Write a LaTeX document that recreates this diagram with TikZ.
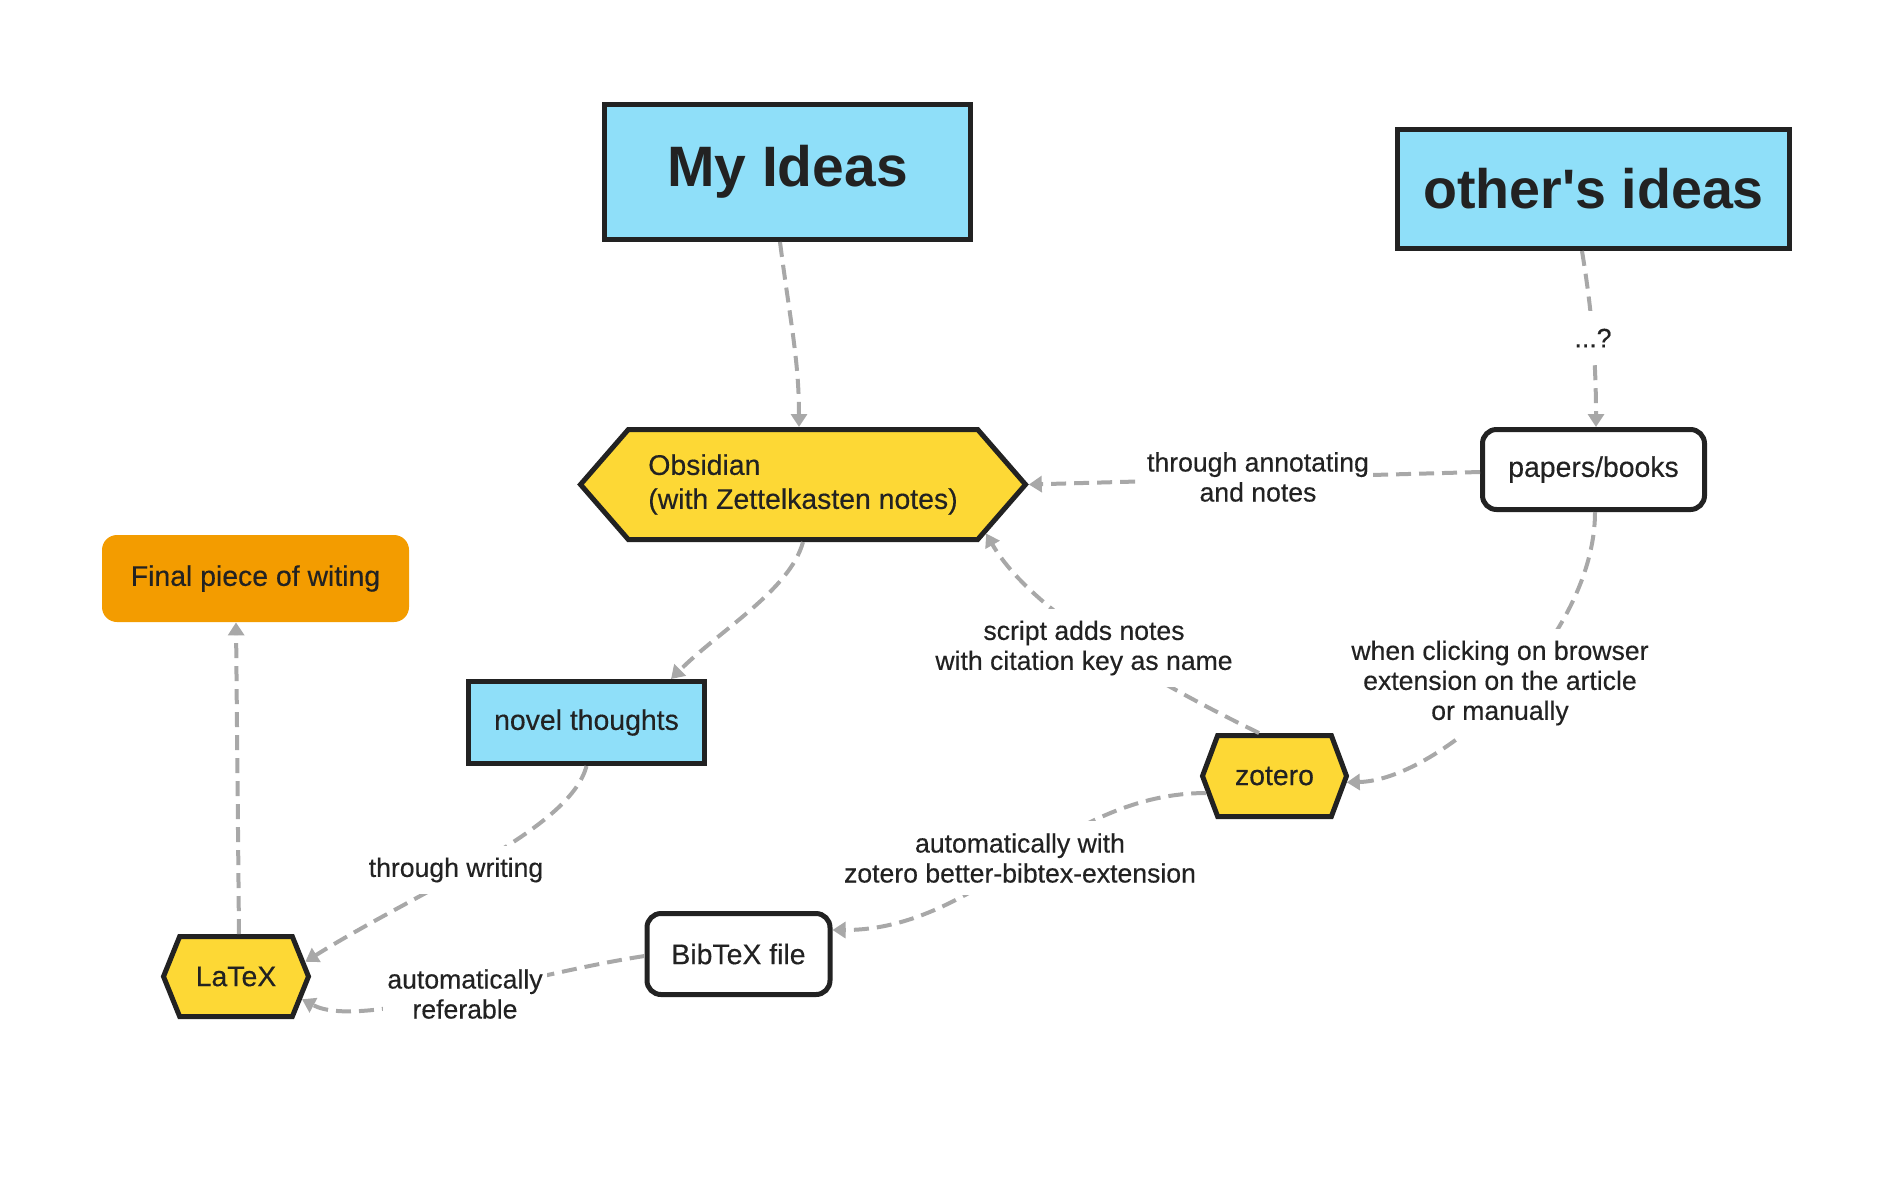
\documentclass[tikz,border=0pt]{standalone}
\usepackage{fontspec}
\setmainfont{Liberation Sans}[Ligatures=TeXOff,FakeBold=0.35,BoldFeatures={FakeBold=0}]
\usetikzlibrary{shapes.symbols,arrows.meta,calc}
\definecolor{ideablue}{HTML}{8FDFF9}
\definecolor{toolyellow}{HTML}{FDD835}
\definecolor{finalorange}{HTML}{F39C00}
\definecolor{inkdark}{HTML}{222222}
\definecolor{edgegray}{HTML}{A8A8A8}
\begin{document}
\begin{tikzpicture}[x=0.5pt,y=-0.5pt,
  box/.style={draw=inkdark,line width=2.5pt,text=inkdark,inner sep=0pt,font=\fontsize{14.2}{17}\selectfont},
  bluebox/.style={box,fill=ideablue,rectangle},
  hexnode/.style={box,fill=toolyellow,shape=signal,signal to=west and east},
  roundbox/.style={box,fill=white,rectangle,rounded corners=7pt},
  finalbox/.style={fill=finalorange,rectangle,rounded corners=7.5pt,text=inkdark,inner sep=0pt,font=\fontsize{14.2}{17}\selectfont},
  bigtext/.style={font=\bfseries\fontsize{28.5}{34}\selectfont},
  edge/.style={draw=edgegray,line width=2pt,dash pattern=on 7.5pt off 4pt},
  arrowedge/.style={edge,-{Triangle[length=6.5pt,width=8pt]}},
  lab/.style={fill=white,text=inkdark,align=center,inner xsep=2pt,inner ysep=6pt,font=\fontsize{13.3}{15}\selectfont}
]
\useasboundingbox (0,0) rectangle (1892,1180);

% nodes
\node[bluebox,bigtext,minimum width=183pt,minimum height=67.5pt] (myideas) at (787.5,172) {My Ideas};
\node[bluebox,bigtext,font=\bfseries\fontsize{27.8}{34}\selectfont,minimum width=196pt,minimum height=59.5pt] (others) at (1593.5,189) {other's ideas};
\node[hexnode,signal pointer angle=98,minimum width=222.5pt,minimum height=55pt,align=left] (obsidian) at (803,484.5) {Obsidian\\(with Zettelkasten notes)};
\node[roundbox,minimum width=111pt,minimum height=40pt] (papers) at (1593.5,469.5) {papers/books};
\node[finalbox,minimum width=153.5pt,minimum height=43.5pt] (final) at (255.5,578.5) {Final piece of witing};
\node[bluebox,minimum width=118pt,minimum height=41pt] (novel) at (586.5,722.5) {novel thoughts};
\node[hexnode,signal pointer angle=139,minimum width=72pt,minimum height=40.5pt] (zotero) at (1274.5,776) {zotero};
\node[roundbox,minimum width=91.5pt,minimum height=40.5pt] (bibtex) at (738.5,954) {BibTeX file};
\node[hexnode,signal pointer angle=136,minimum width=72.5pt,minimum height=40pt] (latex) at (236,976.5) {LaTeX};

% connectors
\draw[arrowedge] ($(myideas.south)+(-7.5,0)$) .. controls (790,320) and (799,360) .. ($(obsidian.north)+(-4,0)$);
\draw[arrowedge] ($(others.south)+(-11.5,0)$) .. controls (1590,300) and (1596,350) .. ($(papers.north)+(2.5,0)$);
\draw[arrowedge] ($(papers.west)+(0,2.5)$) -- (obsidian.east);
\draw[arrowedge] ($(papers.south)+(1.5,0)$) .. controls (1595,640) and (1440,780) .. (zotero.-5);
\draw[arrowedge] ($(zotero.north)+(-15.5,0)$) .. controls (1150,680) and (1030,610) .. (obsidian.-15);
\draw[arrowedge] (obsidian.south) .. controls (790,590) and (720,630) .. ($(novel.north)+(84.5,0)$);
\draw[arrowedge] (novel.south) .. controls (570,830) and (420,890) .. (latex.12);
\draw[arrowedge] (zotero.194) .. controls (1060,793) and (980,930) .. ($(bibtex.east)+(0,-24)$);
\draw[arrowedge] ($(bibtex.west)+(0,2)$) .. controls (520,975) and (360,1030) .. (latex.-19);
\draw[arrowedge] ($(latex.north)+(3,0)$) -- ($(final.south)+(-19.5,0)$);

% connector labels
\node[lab,inner ysep=9pt] (lq) at (1593,338) {...?};
\node[lab] (lannot) at (1258,477) {through annotating\\and notes};
\node[lab] (lclick) at (1500,683) {when clicking on browser\\extension on the article\\or manually};
\node[lab] (lscript) at (1084,648) {script adds notes\\with citation key as name};
\node[lab] (lwrite) at (456,870) {through writing};
\node[lab] (lauto) at (1020,858) {automatically with\\zotero better-bibtex-extension};
\node[lab] (lref) at (465,994) {automatically\\referable};
\end{tikzpicture}
\end{document}
